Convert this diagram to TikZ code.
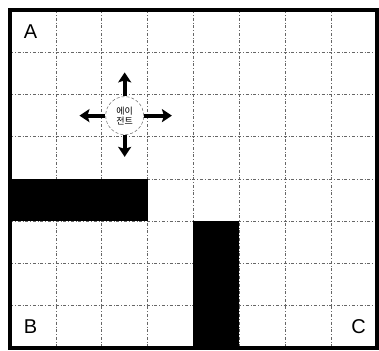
\documentclass[tikz,border=0pt]{standalone}
\usepackage{fontspec}
\setmainfont{Liberation Sans}
\newfontfamily\krfont{Noto Sans CJK KR}
\usetikzlibrary{arrows.meta,positioning}

\begin{document}
\begin{tikzpicture}[x=45.875pt, y=-42.25pt, node distance=24pt,
      gridline/.style={draw=black!60, line width=0.6pt, dash dot},
      wall/.style={fill=black},
      corner/.style={font=\fontsize{20}{20}\selectfont},
      agentnode/.style={circle, draw=black!60, densely dashed, line width=0.5pt, fill=white,
                        minimum size=38pt, inner sep=0pt, align=center,
                        font=\krfont\fontsize{9}{10}\selectfont},
      move/.style={line width=4pt, -{Stealth[length=10pt,width=13pt,inset=2pt]}}]
    \useasboundingbox (-0.218,-0.237) rectangle (8.044,8.071);
    % grid
    \foreach \i in {1,...,7} {
      \draw[gridline] (\i,0) -- (\i,8);
      \draw[gridline] (0,\i) -- (8,\i);
    }
    % walls
    \fill[wall] (0,4) rectangle (3,5);
    \fill[wall] (4,5) rectangle (5,8);
    \draw[line width=4pt] (0,0) rectangle (8,8);
    % corners
    \node[corner] (a) at (0.45,0.5) {A};
    \node[corner] (b) at (0.45,7.5) {B};
    \node[corner] (c) at (7.6,7.5) {C};
    % agent and moves
    \node[agentnode] (agent) at (2.5,2.5) {에이\\전트};
    \coordinate[above=of agent] (up);
    \coordinate[below=22pt of agent] (down);
    \coordinate[left=26pt of agent] (west);
    \coordinate[right=28pt of agent] (east);
    \draw[move] (agent.north) -- (up);
    \draw[move] (agent.south) -- (down);
    \draw[move] (agent.west) -- (west);
    \draw[move] (agent.east) -- (east);
  \end{tikzpicture}
\end{document}
